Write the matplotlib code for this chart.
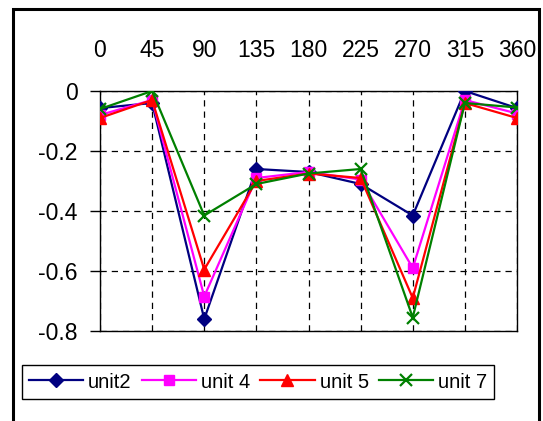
import matplotlib
matplotlib.use('Agg')
import matplotlib.pyplot as plt
import matplotlib.patches as patches

plt.rcParams['font.family'] = ['Liberation Sans', 'DejaVu Sans']

# ============================================================
# Data
# ============================================================
angles = ['0', '45', '90', '135', '180', '225', '270', '315', '360']
unit2 = [-0.057, -0.04, -0.76, -0.26, -0.27, -0.31, -0.415, 0.0, -0.057]
unit4 = [-0.08, -0.03, -0.685, -0.29, -0.27, -0.295, -0.59, -0.03, -0.075]
unit5 = [-0.09, -0.03, -0.595, -0.30, -0.275, -0.29, -0.69, -0.04, -0.09]
unit7 = [-0.06, 0.0, -0.415, -0.31, -0.275, -0.26, -0.755, -0.04, -0.055]
y_ticks = [0, -0.2, -0.4, -0.6, -0.8]

# ============================================================
# Figure
# ============================================================
fig = plt.figure(figsize=(5.43, 4.21), dpi=100)
ax = fig.add_axes([100 / 543, 1 - 331 / 421, 417 / 543, 240 / 421])

x = range(len(angles))
ax.plot(x, unit2, '-', color='#000080', lw=1.6, marker='D', ms=7,
        label='unit2', zorder=3)
ax.plot(x, unit4, '-', color='#FF00FF', lw=1.6, marker='s', ms=7.5,
        label='unit 4', zorder=3)
ax.plot(x, unit5, '-', color='#FF0000', lw=1.6, marker='^', ms=9,
        label='unit 5', zorder=3)
ax.plot(x, unit7, '-', color='#008000', lw=1.6, marker='x', ms=9, mew=1.6,
        label='unit 7', zorder=4)

ax.set_xlim(0, len(angles) - 1)
ax.set_ylim(-0.8, 0)
ax.set_xticks(list(x))
ax.set_xticklabels(angles)
ax.set_yticks(y_ticks)
ax.set_yticklabels(['0', '-0.2', '-0.4', '-0.6', '-0.8'])

ax.xaxis.tick_top()
ax.tick_params(axis='x', length=0, pad=21, labelsize=16.5)
ax.tick_params(axis='y', length=7, width=1, pad=9, labelsize=16.5,
               direction='out')

ax.grid(True, color='black', linestyle=(0, (5, 4)), lw=0.9)
for sp in ax.spines.values():
    sp.set_linewidth(1.0)
    sp.set_color('black')

# Legend box at the bottom
leg = fig.legend(loc='center', bbox_to_anchor=(258 / 543, 1 - 382 / 421),
                 ncol=4, fontsize=14.5, handlelength=2.7, handletextpad=0.25,
                 columnspacing=0.5, fancybox=False, framealpha=1,
                 edgecolor='black', borderpad=0.35, borderaxespad=0)
leg.get_frame().set_linewidth(1.0)

# Outer chart border
fig.patches.append(patches.Rectangle((13 / 543, -0.1), 526 / 543, 1.1 - 9 / 421,
                                     transform=fig.transFigure, fill=False,
                                     ec='black', lw=2.2))

fig.savefig('out.png', dpi=100)
